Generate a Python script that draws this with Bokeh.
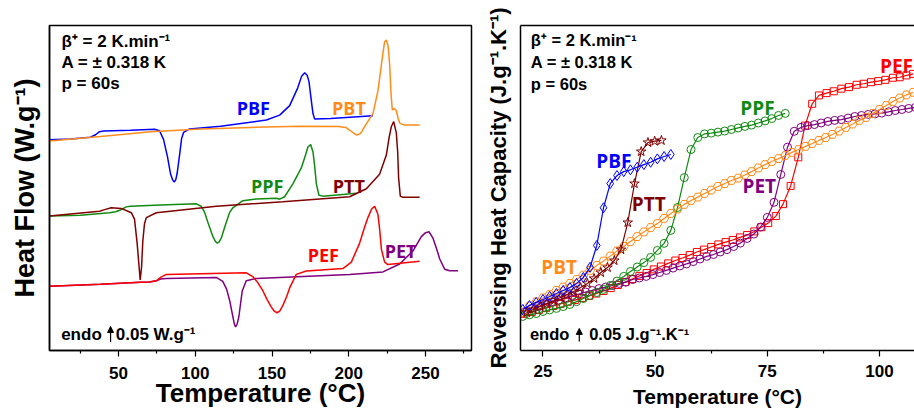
from bokeh.plotting import figure
from bokeh.layouts import row
from bokeh.models import Range1d, FixedTicker, LinearAxis, Label, Arrow, NormalHead
from bokeh.embed import file_html
from bokeh.resources import INLINE

# ---------------- Left panel: DSC heat flow (W/g, curves offset) ----------------
pbf_T = [5.0, 18.7, 31.7, 35.0, 37.6, 40.2, 57.8, 73.5, 76.7, 79.3, 81.9, 83.9, 85.2, 86.3, 87.3, 88.1, 89.8, 91.1, 92.4,
         96.3, 116.5, 146.3, 155.0, 161.5, 166.7, 169.3, 171.3, 172.9, 174.1, 175.5, 176.7, 177.8, 188.2, 215.8]
pbf_HF = [0.687, 0.689, 0.695, 0.703, 0.713, 0.715, 0.718, 0.721, 0.716, 0.688, 0.631, 0.575, 0.556, 0.549, 0.557, 0.575,
          0.638, 0.691, 0.711, 0.722, 0.731, 0.751, 0.767, 0.798, 0.855, 0.894, 0.905, 0.897, 0.876, 0.819, 0.772, 0.754,
          0.756, 0.765]

pbt_T = [5.0, 38.3, 70.9, 103.5, 136.0, 168.6, 193.4, 198.0, 201.2, 203.5, 205.3, 207.0, 208.5, 210.4, 215.8, 219.0,
         220.8, 222.3, 223.4, 224.5, 225.7, 226.7, 227.6, 228.4, 229.6, 231.0, 232.2, 233.2, 235.8, 246.2]
pbt_HF = [0.683, 0.697, 0.713, 0.722, 0.727, 0.731, 0.730, 0.727, 0.716, 0.707, 0.702, 0.705, 0.713, 0.730, 0.772, 0.845,
          0.913, 0.970, 1.006, 1.012, 0.991, 0.928, 0.834, 0.784, 0.788, 0.782, 0.756, 0.741, 0.735, 0.735]

ppf_T = [5.0, 25.2, 44.1, 48.0, 51.3, 55.0, 57.8, 77.4, 100.7, 103.9, 106.1, 108.2, 111.5, 113.2, 114.3, 115.5, 116.9,
         120.2, 122.4, 124.5, 131.0, 139.8, 152.8, 155.0, 158.2, 163.6, 169.1, 171.9, 173.4, 175.2, 176.7, 177.8, 178.9,
         180.6, 183.2, 205.1]
ppf_HF = [0.438, 0.441, 0.449, 0.452, 0.458, 0.468, 0.470, 0.474, 0.478, 0.470, 0.450, 0.418, 0.371, 0.355, 0.350, 0.353,
          0.366, 0.418, 0.450, 0.465, 0.488, 0.494, 0.496, 0.493, 0.501, 0.543, 0.595, 0.638, 0.663, 0.671, 0.647, 0.600,
          0.543, 0.506, 0.503, 0.512]

ptt_T = [5.0, 37.6, 40.9, 45.2, 51.8, 58.3, 60.4, 62.1, 63.4, 64.1, 65.0, 65.8, 66.9, 68.1, 74.6, 113.7, 157.1, 200.6,
         211.5, 220.1, 224.5, 226.3, 227.8, 229.3, 231.0, 231.9, 232.5, 233.6, 235.3, 246.2]
ptt_HF = [0.438, 0.454, 0.459, 0.465, 0.463, 0.449, 0.428, 0.350, 0.272, 0.230, 0.272, 0.356, 0.413, 0.433, 0.449, 0.470,
          0.485, 0.501, 0.527, 0.574, 0.637, 0.694, 0.730, 0.746, 0.709, 0.647, 0.563, 0.503, 0.499, 0.499]

pef_T = [5.0, 38.3, 64.3, 70.2, 74.6, 77.4, 81.1, 103.5, 133.2, 137.5, 140.6, 144.1, 146.8, 149.5, 151.5, 153.2, 155.0,
         157.1, 159.5, 161.5, 165.8, 172.4, 196.2, 201.7, 207.1, 210.0, 212.5, 214.9, 216.9, 219.0, 220.1, 221.3, 223.4,
         225.5, 246.2]
pef_HF = [0.209, 0.216, 0.222, 0.223, 0.227, 0.238, 0.248, 0.250, 0.253, 0.241, 0.222, 0.194, 0.166, 0.142, 0.128, 0.123,
          0.128, 0.147, 0.175, 0.204, 0.248, 0.259, 0.267, 0.288, 0.350, 0.397, 0.433, 0.461, 0.470, 0.444, 0.397, 0.329,
          0.288, 0.280, 0.291]

pet_T = [5.0, 38.3, 64.3, 70.2, 74.6, 77.4, 81.1, 113.7, 117.9, 120.4, 122.4, 124.5, 125.5, 126.3, 127.2, 128.4, 129.5,
         130.6, 133.2, 139.8, 200.6, 222.3, 233.2, 241.8, 247.3, 250.1, 252.3, 254.9, 257.3, 259.3, 262.5, 265.8, 271.2]
pet_HF = [0.209, 0.216, 0.222, 0.223, 0.227, 0.233, 0.235, 0.238, 0.225, 0.200, 0.163, 0.110, 0.085, 0.077, 0.085, 0.110,
          0.153, 0.194, 0.227, 0.235, 0.248, 0.256, 0.282, 0.324, 0.371, 0.384, 0.387, 0.366, 0.331, 0.298, 0.265, 0.260,
          0.260]

left_names = ["PBF", "PBT", "PPF", "PTT", "PEF", "PET"]
left_label_T = [137.8, 200.1, 146.9, 200.1, 183.4, 233.8]
left_label_HF = [0.791, 0.791, 0.5375, 0.5375, 0.3116, 0.324]

# ---------------- Right panel: reversing heat capacity (offset, J/g/K) ----------------
rpbf_T = [20.5, 22.0, 23.5, 25.0, 26.5, 28.0, 29.5, 31.0, 32.5, 34.0, 35.5, 37.0, 38.5, 40.0, 41.5, 43.0, 44.5, 46.0,
          47.5, 49.0, 50.5, 52.0, 53.5]
rpbf_Cp = [0.158, 0.173, 0.185, 0.196, 0.208, 0.219, 0.231, 0.242, 0.258, 0.281, 0.320, 0.404, 0.549, 0.642, 0.673, 0.688,
           0.695, 0.705, 0.715, 0.724, 0.737, 0.746, 0.754]

rptt_T = [21.4, 22.9, 24.4, 25.9, 27.4, 28.9, 30.4, 31.9, 33.4, 34.9, 36.4, 37.9, 39.4, 40.9, 42.4, 43.9, 45.4, 46.9,
          48.4, 49.9, 51.4]
rptt_Cp = [0.146, 0.158, 0.169, 0.181, 0.192, 0.204, 0.215, 0.227, 0.242, 0.258, 0.277, 0.300, 0.319, 0.346, 0.388, 0.492,
           0.642, 0.765, 0.800, 0.805, 0.808]

rppf_T = [20.5, 22.0, 23.5, 25.0, 26.5, 28.0, 29.5, 31.0, 32.5, 34.0, 35.5, 37.0, 38.5, 40.0, 41.5, 43.0, 44.5, 46.0,
          47.5, 49.0, 50.5, 52.0, 53.5, 55.0, 56.5, 58.0, 59.5, 61.0, 62.5, 64.0, 65.5, 67.0, 68.5, 70.0, 71.5, 73.0,
          74.5, 76.0, 77.5, 79.0]
rppf_Cp = [0.131, 0.137, 0.142, 0.150, 0.156, 0.162, 0.169, 0.177, 0.188, 0.200, 0.212, 0.223, 0.235, 0.250, 0.267, 0.285,
           0.304, 0.321, 0.338, 0.358, 0.385, 0.412, 0.462, 0.550, 0.665, 0.773, 0.819, 0.833, 0.836, 0.840, 0.844, 0.850,
           0.856, 0.862, 0.867, 0.875, 0.883, 0.892, 0.904, 0.912]

rpbt_T = [20.5, 22.0, 23.5, 25.0, 26.5, 28.0, 29.5, 31.0, 32.5, 34.0, 35.5, 37.0, 38.5, 40.0, 41.5, 43.0, 44.5, 46.0,
          47.5, 49.0, 50.5, 52.0, 53.5, 55.0, 56.5, 58.0, 59.5, 61.0, 62.5, 64.0, 65.5, 67.0, 68.5, 70.0, 71.5, 73.0,
          74.5, 76.0, 77.5, 79.0, 80.5, 82.0, 83.5, 85.0, 86.5, 88.0, 89.5, 91.0, 92.5, 94.0, 95.5, 97.0, 98.5, 100.0,
          101.5, 103.0, 104.5, 106.0, 107.5]
rpbt_Cp = [0.146, 0.171, 0.187, 0.202, 0.215, 0.231, 0.244, 0.258, 0.273, 0.290, 0.308, 0.327, 0.344, 0.363, 0.383, 0.400,
           0.419, 0.438, 0.456, 0.473, 0.488, 0.508, 0.527, 0.544, 0.562, 0.577, 0.590, 0.604, 0.617, 0.631, 0.642, 0.654,
           0.663, 0.675, 0.688, 0.702, 0.715, 0.727, 0.738, 0.750, 0.762, 0.773, 0.785, 0.796, 0.808, 0.819, 0.831, 0.844,
           0.858, 0.871, 0.885, 0.896, 0.912, 0.927, 0.942, 0.958, 0.971, 0.983, 0.993]

rpet_T = [21.0, 22.5, 24.0, 25.5, 27.0, 28.5, 30.0, 31.5, 33.0, 34.5, 36.0, 37.5, 39.0, 40.5, 42.0, 43.5, 45.0, 46.5,
          48.0, 49.5, 51.0, 52.5, 54.0, 55.5, 57.0, 58.5, 60.0, 61.5, 63.0, 64.5, 66.0, 67.5, 69.0, 70.5, 72.0, 73.5,
          75.0, 76.5, 78.0, 79.5, 81.0, 82.5, 84.0, 85.5, 87.0, 88.5, 90.0, 91.5, 93.0, 94.5, 96.0, 97.5, 99.0, 100.5,
          102.0, 103.5, 105.0, 106.5, 108.0]
rpet_Cp = [0.150, 0.162, 0.169, 0.179, 0.187, 0.194, 0.202, 0.210, 0.217, 0.225, 0.231, 0.238, 0.244, 0.250, 0.258, 0.263,
           0.273, 0.279, 0.285, 0.292, 0.300, 0.308, 0.317, 0.325, 0.333, 0.342, 0.352, 0.362, 0.369, 0.379, 0.388, 0.400,
           0.413, 0.431, 0.448, 0.475, 0.512, 0.570, 0.677, 0.782, 0.843, 0.858, 0.865, 0.869, 0.875, 0.881, 0.885, 0.888,
           0.894, 0.900, 0.904, 0.908, 0.910, 0.913, 0.918, 0.923, 0.927, 0.931, 0.935]

rpef_T = [20.9, 22.5, 24.1, 25.7, 27.3, 28.9, 30.5, 32.1, 33.7, 35.3, 36.9, 38.5, 40.1, 41.7, 43.3, 44.9, 46.5, 48.1,
          49.7, 51.3, 52.9, 54.5, 56.1, 57.7, 59.3, 60.9, 62.5, 64.1, 65.7, 67.3, 68.9, 70.5, 72.1, 73.7, 75.2, 76.9,
          78.5, 80.2, 81.9, 83.4, 85.0, 86.5, 88.2, 89.8, 91.5, 93.2, 94.9, 96.5, 98.1, 99.7, 101.3, 103.0, 104.5, 106.0,
          107.5]
rpef_Cp = [0.141, 0.148, 0.156, 0.163, 0.171, 0.179, 0.187, 0.194, 0.202, 0.210, 0.219, 0.229, 0.240, 0.252, 0.263, 0.275,
           0.287, 0.298, 0.312, 0.323, 0.335, 0.346, 0.356, 0.367, 0.379, 0.388, 0.398, 0.408, 0.417, 0.425, 0.435, 0.444,
           0.458, 0.474, 0.490, 0.517, 0.563, 0.633, 0.743, 0.865, 0.949, 0.981, 0.990, 0.997, 1.007, 1.013, 1.022, 1.026,
           1.032, 1.036, 1.041, 1.049, 1.051, 1.058, 1.064]

right_names = ["PBF", "PTT", "PBT", "PPF", "PET", "PEF"]
right_label_T = [40.8, 48.6, 28.6, 72.8, 73.2, 103.8]
right_label_Cp = [0.728, 0.562, 0.320, 0.933, 0.631, 1.096]

# ---------------- colours ----------------
C_BLUE = "#0000ff"
C_ORANGE = "#ff8c1a"
C_GREEN = "#118a11"
C_BROWN = "#800000"
C_RED = "#ff0000"
C_PURPLE = "#800080"

AX_FONT = "Liberation Sans"
LBL_FONT = "Open Sans"


def style_axes(p, xlabel_size):
    p.xgrid.visible = False
    p.ygrid.visible = False
    for ax in p.xaxis:
        ax.axis_label = "Temperature (°C)"
        ax.axis_label_text_font = AX_FONT
        ax.axis_label_text_font_style = "bold"
        ax.axis_label_text_font_size = xlabel_size
        ax.axis_label_text_color = "black"
        ax.major_label_text_font = AX_FONT
        ax.major_label_text_font_style = "bold"
        ax.major_label_text_font_size = "17px"
        ax.major_label_text_color = "black"
        ax.major_tick_in = 0
        ax.major_tick_out = 6
        ax.minor_tick_in = 0
        ax.minor_tick_out = 3
        ax.axis_line_width = 1.5
        ax.major_tick_line_width = 1.2
        ax.minor_tick_line_width = 1.2
    for ax in p.yaxis:
        ax.ticker = FixedTicker(ticks=[])
        ax.axis_label_text_font = AX_FONT
        ax.axis_label_text_font_style = "bold"
        ax.axis_label_text_color = "black"
        ax.major_tick_out = 0
        ax.major_tick_in = 0
        ax.minor_tick_out = 0
        ax.minor_tick_in = 0
        ax.major_label_standoff = 0
        ax.axis_line_width = 1.5


# ================= LEFT FIGURE =================
p1 = figure(width=476, height=411, output_backend="svg", toolbar_location=None,
            x_range=Range1d(5, 280), y_range=Range1d(0, 1.059),
            min_border_left=49, min_border_right=5, min_border_top=13, min_border_bottom=59)
p1.background_fill_color = "white"
p1.outline_line_color = "black"
p1.outline_line_width = 1.5
style_axes(p1, "26px")
p1.xaxis.ticker = FixedTicker(ticks=[50, 100, 150, 200, 250], minor_ticks=[25, 75, 125, 175, 225, 275])
p1.xaxis.major_label_standoff = 10
p1.xaxis.axis_label_standoff = -4
p1.yaxis.axis_label = "Heat Flow (W.g⁻¹)"
p1.yaxis.axis_label_text_font_size = "27px"
p1.yaxis.axis_label_standoff = 10

lw = 1.5
p1.line(pbf_T, pbf_HF, color=C_BLUE, line_width=lw)
p1.line(pbt_T, pbt_HF, color=C_ORANGE, line_width=lw)
p1.line(ppf_T, ppf_HF, color=C_GREEN, line_width=lw)
p1.line(ptt_T, ptt_HF, color=C_BROWN, line_width=lw)
p1.line(pet_T, pet_HF, color=C_PURPLE, line_width=lw)
p1.line(pef_T, pef_HF, color=C_RED, line_width=lw)

left_colors = [C_BLUE, C_ORANGE, C_GREEN, C_BROWN, C_RED, C_PURPLE]
for name, tx, ty, col in zip(left_names, left_label_T, left_label_HF, left_colors):
    p1.add_layout(Label(x=tx, y=ty, text=name, text_color=col, text_font=LBL_FONT, text_font_style="bold",
                        text_font_size="18px", text_align="center", text_baseline="middle"))

for txt, ty in zip(["β⁺ = 2 K.min⁻¹", "A = ± 0.318 K", "p = 60s"], [1.008, 0.938, 0.871]):
    p1.add_layout(Label(x=12.8, y=ty, text=txt, text_font=AX_FONT, text_font_style="bold",
                        text_font_size="17px", text_align="left", text_baseline="middle", text_color="black"))

p1.add_layout(Label(x=12.6, y=0.053, text="endo", text_font=AX_FONT, text_font_style="bold",
                    text_font_size="17px", text_align="left", text_baseline="middle", text_color="black"))
p1.add_layout(Label(x=48.2, y=0.053, text="0.05 W.g⁻¹", text_font=AX_FONT, text_font_style="bold",
                    text_font_size="17px", text_align="left", text_baseline="middle", text_color="black"))
p1.add_layout(Arrow(end=NormalHead(size=6, fill_color="black", line_color="black"),
                    x_start=44.8, y_start=0.028, x_end=44.8, y_end=0.078, line_width=1.2, line_color="black"))

# ================= RIGHT FIGURE =================
p2 = figure(width=438, height=411, output_backend="svg", toolbar_location=None,
            x_range=Range1d(20, 107.8), y_range=Range1d(0, 1.25),
            min_border_left=44, min_border_right=0, min_border_top=25, min_border_bottom=61)
p2.background_fill_color = "white"
p2.outline_line_color = None
style_axes(p2, "21px")
p2.xaxis.ticker = FixedTicker(ticks=[25, 50, 75, 100], minor_ticks=[37.5, 62.5, 87.5])
p2.xaxis.major_label_standoff = 8
p2.xaxis.axis_label_standoff = 5
p2.yaxis.axis_label = "Reversing Heat Capacity (J.g⁻¹.K⁻¹)"
p2.yaxis.axis_label_text_font_size = "22px"
p2.yaxis.axis_label_standoff = 10
top_axis = LinearAxis(ticker=FixedTicker(ticks=[]), axis_line_width=1.5, major_tick_out=0, major_tick_in=0,
                      minor_tick_out=0, minor_tick_in=0, major_label_standoff=0)
p2.add_layout(top_axis, "above")

series = [
    (rpef_T, rpef_Cp, C_RED, "square", 7),
    (rpet_T, rpet_Cp, C_PURPLE, "circle", 8),
    (rppf_T, rppf_Cp, C_GREEN, "circle", 8),
    (rpbt_T, rpbt_Cp, C_ORANGE, "hex", 9),
    (rptt_T, rptt_Cp, C_BROWN, "star", 10),
    (rpbf_T, rpbf_Cp, C_BLUE, "diamond", 10),
]
for xs, ys, col, mk, sz in series:
    p2.line(xs, ys, color=col, line_width=1.2)
    p2.scatter(xs, ys, marker=mk, size=sz, line_color=col, fill_color=None, line_width=1.0)

right_colors = [C_BLUE, C_BROWN, C_ORANGE, C_GREEN, C_PURPLE, C_RED]
for name, tx, ty, col in zip(right_names, right_label_T, right_label_Cp, right_colors):
    p2.add_layout(Label(x=tx, y=ty, text=name, text_color=col, text_font=LBL_FONT, text_font_style="bold",
                        text_font_size="19px", text_align="center", text_baseline="middle"))

for txt, ty in zip(["β⁺ = 2 K.min⁻¹", "A = ± 0.318 K", "p = 60s"], [1.195, 1.109, 1.026]):
    p2.add_layout(Label(x=22.3, y=ty, text=txt, text_font=AX_FONT, text_font_style="bold",
                        text_font_size="16.5px", text_align="left", text_baseline="middle", text_color="black"))

p2.add_layout(Label(x=22.1, y=0.064, text="endo", text_font=AX_FONT, text_font_style="bold",
                    text_font_size="16.5px", text_align="left", text_baseline="middle", text_color="black"))
p2.add_layout(Label(x=35.3, y=0.064, text="0.05 J.g⁻¹.K⁻¹", text_font=AX_FONT, text_font_style="bold",
                    text_font_size="16.5px", text_align="left", text_baseline="middle", text_color="black"))
p2.add_layout(Arrow(end=NormalHead(size=6, fill_color="black", line_color="black"),
                    x_start=33.1, y_start=0.035, x_end=33.1, y_end=0.085, line_width=1.2, line_color="black"))

layout = row(p1, p2)
open("out.html", "w").write(file_html(layout, INLINE))
